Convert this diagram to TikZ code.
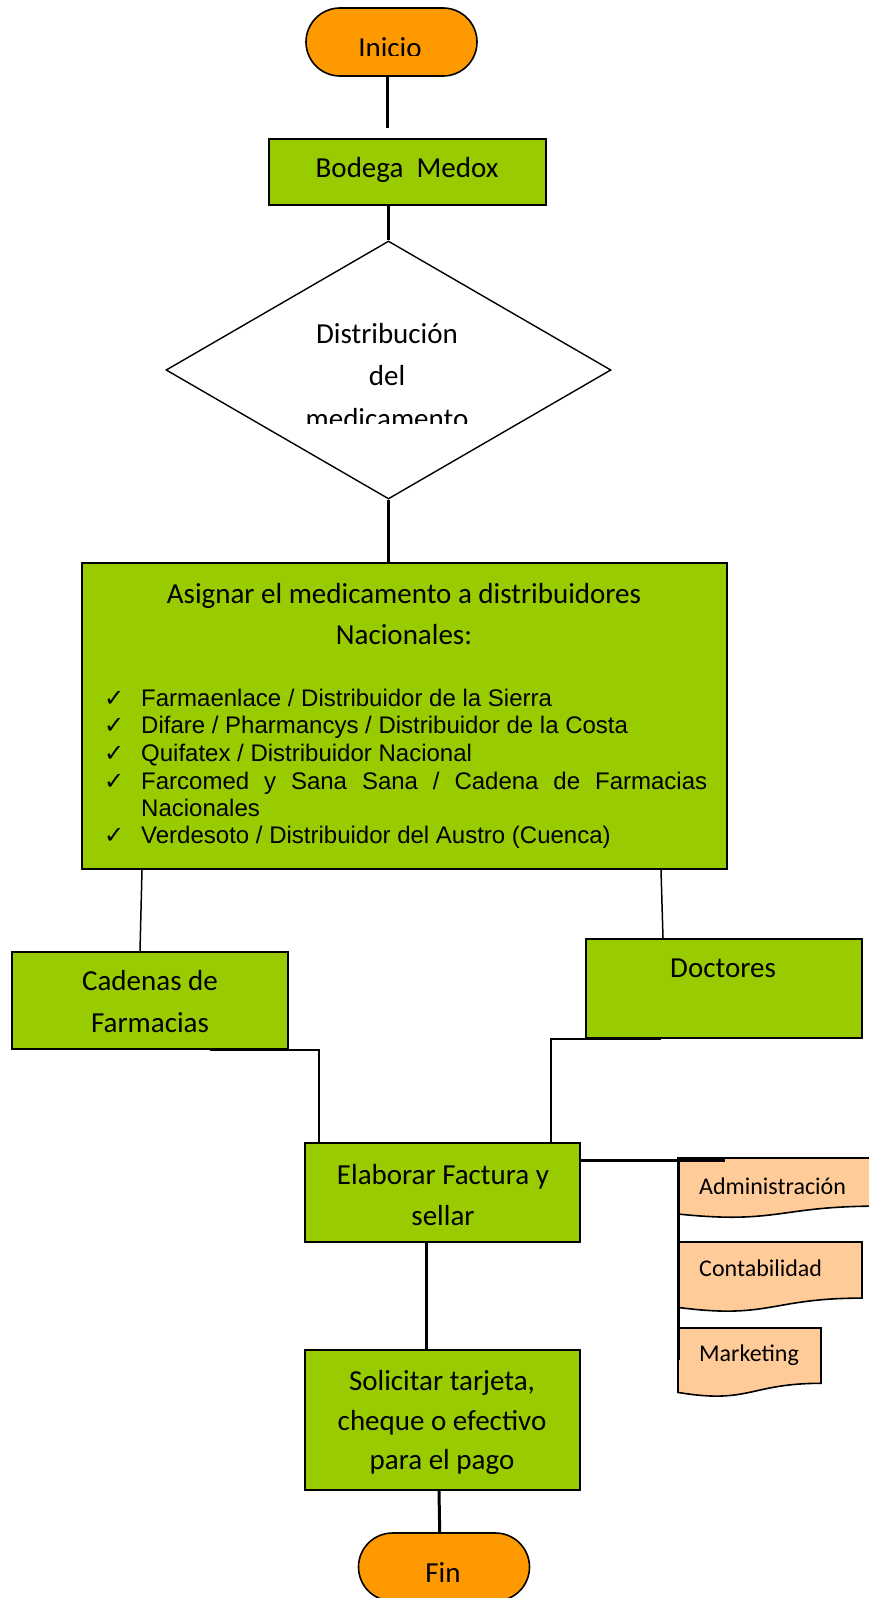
\documentclass[tikz,border=0pt]{standalone}
\usepackage{fontspec}
\setmainfont{Carlito}
\newfontfamily\arialf{Liberation Sans}
\newfontfamily\dejavu{DejaVu Sans}
\usetikzlibrary{shapes.geometric,calc}
\definecolor{boxgreen}{HTML}{99CC00}
\definecolor{termorange}{HTML}{FF9900}
\definecolor{docpeach}{HTML}{FFCC99}
\begin{document}
\begin{tikzpicture}[x=1pt,y=-1pt,
  gbox/.style={draw=black, line width=2pt, fill=boxgreen, rectangle, inner sep=0},
  term/.style={draw=black, line width=1.6pt, fill=termorange, rectangle, rounded corners=34pt, minimum width=171pt, minimum height=68pt, inner sep=0},
  decision/.style={draw=black, line width=1.4pt, fill=white, diamond, inner sep=0, minimum width=445pt, minimum height=258pt},
  conn/.style={line width=3pt},
  thinconn/.style={line width=1.5pt},
  doc/.style={draw=black, line width=1.6pt, fill=docpeach},
  lbl/.style={anchor=base, inner sep=0, font=\fontsize{29}{41}\selectfont},
  smalllbl/.style={anchor=base west, inner sep=0, font=\fontsize{24}{29}\selectfont},
  item/.style={anchor=base west, inner sep=0, font=\arialf\fontsize{24}{27}\selectfont},
  tick/.style={anchor=base west, inner sep=0, font=\dejavu\fontsize{24}{24}\selectfont}
]
\useasboundingbox (0,0) rectangle (869,1598);
\fill[white] (0,0) rectangle (869,1598);

% nodes
\node[term] (inicio) at (391.5,42) {};
\begin{scope}
  \clip (300,0) rectangle (480,55);
  \node[lbl] (tinicio) at (390,57) {Inicio};
\end{scope}

\node[gbox, minimum width=277pt, minimum height=66pt] (bodega) at (407.5,172) {};
\node[lbl] (tbodega) at (407,177) {Bodega\ \ Medox};

\node[decision] (dist) at (388.5,370) {};
\node[lbl] (tdist1) at (387,343) {Distribución};
\node[lbl] (tdist2) at (387,385) {del};
\begin{scope}
  \clip (250,395) rectangle (520,423);
  \node[lbl] (tdist3) at (387,428) {medicamento};
\end{scope}

\node[gbox, minimum width=645pt, minimum height=306pt] (asignar) at (404.5,716) {};
\node[lbl] (tas1) at (404,603) {Asignar el medicamento a distribuidores};
\node[lbl] (tas2) at (404,644) {Nacionales:};
\node[tick] (k1) at (104,706) {✓};
\node[item] (i1) at (141,706) {Farmaenlace / Distribuidor de la Sierra};
\node[tick] (k2) at (104,733) {✓};
\node[item] (i2) at (141,733) {Difare / Pharmancys / Distribuidor de la Costa};
\node[tick] (k3) at (104,761) {✓};
\node[item] (i3) at (141,761) {Quifatex / Distribuidor Nacional};
\node[tick] (k4) at (104,789) {✓};
\node[item] (i4) at (141,789) {\hbox to 566pt{Farcomed\hfill y\hfill Sana\hfill Sana\hfill /\hfill Cadena\hfill de\hfill Farmacias}};
\node[item] (i4b) at (141,816) {Nacionales};
\node[tick] (k5) at (104,843) {✓};
\node[item] (i5) at (141,843) {Verdesoto / Distribuidor del Austro (Cuenca)};

\node[gbox, minimum width=276pt, minimum height=97pt] (cadenas) at (150,1000.5) {};
\node[lbl] (tcad1) at (150,990) {Cadenas de};
\node[lbl] (tcad2) at (150,1032) {Farmacias};

\node[gbox, minimum width=276pt, minimum height=99pt] (doctores) at (724,988.5) {};
\node[lbl] (tdoc) at (723,977) {Doctores};

\node[gbox, minimum width=275pt, minimum height=99pt] (elaborar) at (442.5,1192.5) {};
\node[lbl] (tel1) at (443,1184) {Elaborar Factura y};
\node[lbl] (tel2) at (443,1225) {sellar};

\node[gbox, minimum width=275pt, minimum height=140pt] (solicitar) at (442.5,1420) {};
\node[lbl] (tsol1) at (442,1390) {Solicitar tarjeta,};
\node[lbl] (tsol2) at (442,1430) {cheque o efectivo};
\node[lbl] (tsol3) at (442,1469) {para el pago};

\node[term] (fin) at (444,1567) {};
\node[lbl] (tfin) at (443,1582) {Fin};

% connectors
\draw[conn] (inicio.south -| dist.north) ++(-1.5,0) coordinate (c0) -- ($(bodega.north -| c0)+(0,-10)$);
\draw[conn] (bodega.south -| dist.north) -- (dist.north);
\draw[conn] (dist.south) -- (asignar.north -| dist.south);
\draw[thinconn] ($(asignar.south west)+(61,0)$) -- ($(cadenas.north west)+(129,0)$);
\draw[thinconn] ($(asignar.south west)+(580,0)$) -- ($(doctores.north west)+(78,0)$);
\draw[thinconn] ($(cadenas.south west)+(199,0)$) -| ($(elaborar.north west)+(15,0)$);
\draw[thinconn] ($(doctores.south west)+(76,0)$) -| ($(elaborar.north west)+(247,0)$);
\draw[conn] ($(elaborar.south west)+(122,0)$) -- ($(solicitar.north west)+(122,0)$);
\draw[conn] ($(solicitar.south west)+(135,0)$) -- ($(fin.north west)+(82,0)$);

% document shapes
\draw[doc] (678,1158) -- (878,1158) -- (878,1206.1)
  .. controls (778,1206.1) and (778,1224.4) .. (678,1214) -- cycle;
\node[smalllbl] (tadm) at (699,1194) {Administración};
\draw[doc] (678,1242) -- (862,1242) -- (862,1298.1)
  .. controls (770,1298.1) and (770,1319.5) .. (678,1307.4) -- cycle;
\node[smalllbl] (tcont) at (699,1276) {Contabilidad};
\draw[doc] (678,1328) -- (821,1328) -- (821,1383.3)
  .. controls (749.5,1383.3) and (749.5,1404.4) .. (678,1392.4) -- cycle;
\node[smalllbl] (tmkt) at (699,1361) {Marketing};

\draw[conn] (elaborar.east |- 0,1160) coordinate (c1) -- (725,1160);
\draw[conn] (678,1160) -- (678,1360);
\end{tikzpicture}
\end{document}
